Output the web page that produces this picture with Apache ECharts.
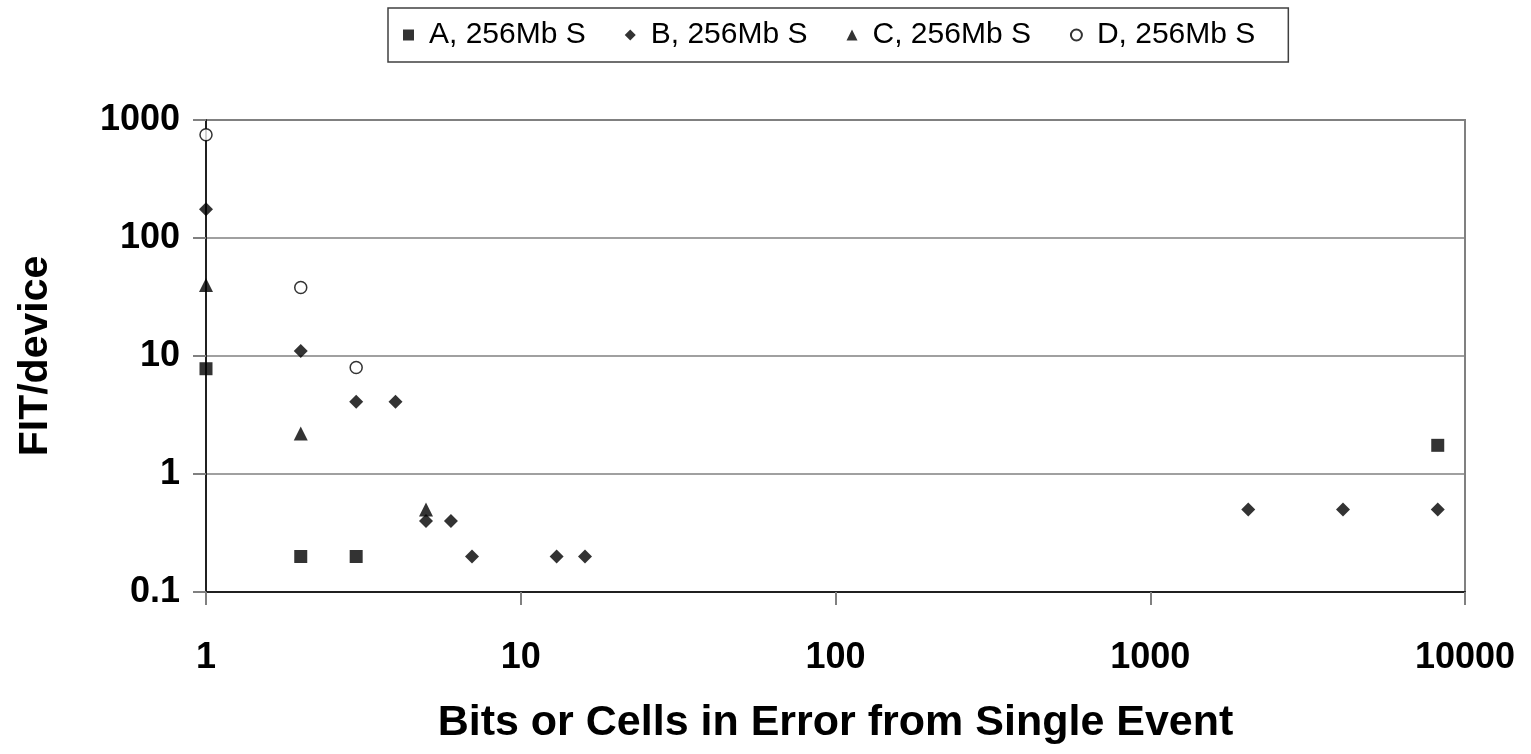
<!DOCTYPE html>
<html>
<head>
<meta charset="utf-8">
<script src="https://cdn.jsdelivr.net/npm/echarts@6/dist/echarts.min.js"></script>
<style>html,body{margin:0;padding:0;background:#fff;}#chart{width:1531px;height:754px;}</style>
</head>
<body>
<div id="chart"></div>
<script>
const seriesNames = ['A, 256Mb S', 'B, 256Mb S', 'C, 256Mb S', 'D, 256Mb S'];
const dataA = [[1, 7.8], [2, 0.2], [3, 0.2], [8192, 1.75]];
const dataB = [[1, 175], [2, 11], [3, 4.1], [4, 4.1], [5, 0.4], [6, 0.4], [7, 0.2], [13, 0.2], [16, 0.2], [2048, 0.5], [4096, 0.5], [8192, 0.5]];
const dataC = [[1, 40], [2, 2.2], [5, 0.5]];
const dataD = [[1, 750], [2, 38], [3, 8]];
const xTitle = 'Bits or Cells in Error from Single Event';
const yTitle = 'FIT/device';

const FONT = '"Liberation Sans", Arial, sans-serif';
const chart = echarts.init(document.getElementById('chart'), null, {renderer: 'canvas'});
chart.setOption({
  animation: false,
  backgroundColor: '#fff',
  legend: {
    left: 388, top: 8,
    orient: 'horizontal',
    data: seriesNames,
    itemWidth: 11, itemHeight: 11,
    itemGap: 39,
    padding: [12, 33, 12, 15],
    borderColor: '#404040', borderWidth: 1.5,
    textStyle: {fontFamily: FONT, fontSize: 30, color: '#000', padding: [0, 0, 0, 10]}
  },
  grid: {left: 206, right: 66, top: 120, bottom: 162, show: true, borderColor: '#808080', borderWidth: 2, backgroundColor: '#fff'},
  xAxis: {
    type: 'log', logBase: 10, min: 1, max: 10000,
    name: xTitle, nameLocation: 'middle', nameGap: 110,
    nameTextStyle: {fontFamily: FONT, fontSize: 43, fontWeight: 'bold', color: '#000'},
    axisLine: {show: true, onZero: false, lineStyle: {color: '#202020', width: 2}},
    axisTick: {show: true, inside: false, length: 13, lineStyle: {color: '#808080', width: 2}},
    minorTick: {show: false},
    splitLine: {show: false},
    axisLabel: {fontFamily: FONT, fontSize: 36, fontWeight: 'bold', color: '#000', margin: 48,
      formatter: function (v) { return String(v); }}
  },
  yAxis: {
    type: 'log', logBase: 10, min: 0.1, max: 1000,
    name: yTitle, nameLocation: 'middle', nameGap: 150, nameRotate: 90,
    nameTextStyle: {fontFamily: FONT, fontSize: 41, fontWeight: 'bold', color: '#000'},
    axisLine: {show: true, onZero: false, lineStyle: {color: '#202020', width: 2}},
    axisTick: {show: true, inside: false, length: 13, lineStyle: {color: '#808080', width: 2}},
    splitLine: {show: true, lineStyle: {color: '#808080', width: 1.5}},
    axisLabel: {fontFamily: FONT, fontSize: 36, fontWeight: 'bold', color: '#000', margin: 26,
      formatter: function (v) { return String(v); }}
  },
  series: [
    {name: seriesNames[0], type: 'scatter', data: dataA, symbol: 'rect', symbolSize: 13,
      itemStyle: {color: '#000'}},
    {name: seriesNames[1], type: 'scatter', data: dataB, symbol: 'diamond', symbolSize: 14,
      itemStyle: {color: '#000'}},
    {name: seriesNames[2], type: 'scatter', data: dataC, symbol: 'triangle', symbolSize: 14,
      itemStyle: {color: '#000'}},
    {name: seriesNames[3], type: 'scatter', data: dataD, symbol: 'circle', symbolSize: 12,
      itemStyle: {color: '#fff', borderColor: '#000', borderWidth: 1.5}}
  ]
});
</script>
</body>
</html>
